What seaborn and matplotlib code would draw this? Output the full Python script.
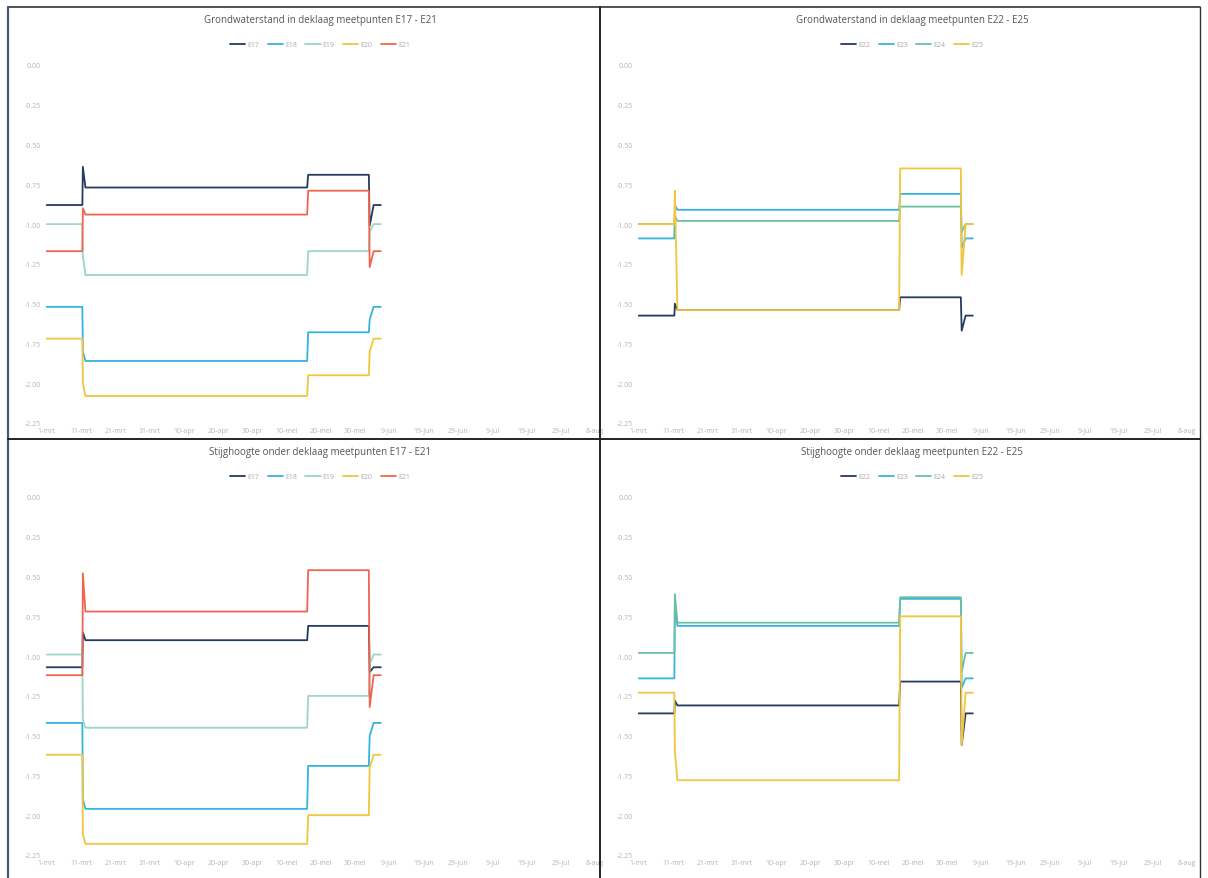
import pandas as pd
import seaborn as sns
import matplotlib.pyplot as plt
from matplotlib.lines import Line2D

# breakpoints in days (before, spike, plateau, step, spike, after)
days = [0, 10.4, 10.55, 11.3, 76, 76.3, 94, 94.25, 95.4, 97.5]

# Grondwaterstand in deklaag E17 - E21
gw_e17 = [-0.88, -0.88, -0.64, -0.77, -0.77, -0.69, -0.69, -1.01, -0.88, -0.88]
gw_e18 = [-1.52, -1.52, -1.80, -1.86, -1.86, -1.68, -1.68, -1.60, -1.52, -1.52]
gw_e19 = [-1.00, -1.00, -1.20, -1.32, -1.32, -1.17, -1.17, -1.05, -1.00, -1.00]
gw_e20 = [-1.72, -1.72, -2.00, -2.08, -2.08, -1.95, -1.95, -1.80, -1.72, -1.72]
gw_e21 = [-1.17, -1.17, -0.90, -0.94, -0.94, -0.79, -0.79, -1.27, -1.17, -1.17]

# Grondwaterstand in deklaag E22 - E25
gw_e22 = [-1.575, -1.575, -1.50, -1.54, -1.54, -1.46, -1.46, -1.67, -1.575, -1.575]
gw_e23 = [-1.09, -1.09, -0.88, -0.91, -0.91, -0.81, -0.81, -1.15, -1.09, -1.09]
gw_e24 = [-1.00, -1.00, -0.95, -0.98, -0.98, -0.89, -0.89, -1.05, -1.00, -1.00]
gw_e25 = [-1.00, -1.00, -0.79, -1.54, -1.54, -0.65, -0.65, -1.32, -1.00, -1.00]

# Stijghoogte onder deklaag E17 - E21
st_e17 = [-1.07, -1.07, -0.85, -0.90, -0.90, -0.81, -0.81, -1.10, -1.07, -1.07]
st_e18 = [-1.42, -1.42, -1.90, -1.96, -1.96, -1.69, -1.69, -1.50, -1.42, -1.42]
st_e19 = [-0.99, -0.99, -1.40, -1.45, -1.45, -1.25, -1.25, -1.05, -0.99, -0.99]
st_e20 = [-1.62, -1.62, -2.12, -2.18, -2.18, -2.00, -2.00, -1.70, -1.62, -1.62]
st_e21 = [-1.12, -1.12, -0.48, -0.72, -0.72, -0.46, -0.46, -1.32, -1.12, -1.12]

# Stijghoogte onder deklaag E22 - E25
st_e22 = [-1.36, -1.36, -1.28, -1.31, -1.31, -1.16, -1.16, -1.56, -1.36, -1.36]
st_e23 = [-1.14, -1.14, -0.70, -0.81, -0.81, -0.64, -0.64, -1.20, -1.14, -1.14]
st_e24 = [-0.98, -0.98, -0.61, -0.79, -0.79, -0.63, -0.63, -1.10, -0.98, -0.98]
st_e25 = [-1.23, -1.23, -1.60, -1.78, -1.78, -0.75, -0.75, -1.56, -1.23, -1.23]

x_ticks = [0, 10, 20, 30, 40, 50, 60, 70, 80, 90, 100, 110, 120, 130, 140, 150, 160]
x_labels = ["1-mrt", "11-mrt", "21-mrt", "31-mrt", "10-apr", "20-apr", "30-apr",
            "10-mei", "20-mei", "30-mei", "9-jun", "19-jun", "29-jun", "9-jul",
            "19-jul", "29-jul", "8-aug"]
y_ticks = [0.0, -0.25, -0.5, -0.75, -1.0, -1.25, -1.5, -1.75, -2.0, -2.25]

colors = {"E17": "#243a5e", "E18": "#35b4dc", "E19": "#9dd6c4", "E20": "#f2c53d",
          "E21": "#f0654f", "E22": "#243a5e", "E23": "#35b4dc", "E24": "#6cbfa0",
          "E25": "#f2c53d"}

panels = [
    ("Grondwaterstand in deklaag meetpunten E17 - E21",
     {"E17": gw_e17, "E18": gw_e18, "E19": gw_e19, "E20": gw_e20, "E21": gw_e21}),
    ("Grondwaterstand in deklaag meetpunten E22 - E25",
     {"E22": gw_e22, "E23": gw_e23, "E24": gw_e24, "E25": gw_e25}),
    ("Stijghoogte onder deklaag meetpunten E17 - E21",
     {"E17": st_e17, "E18": st_e18, "E19": st_e19, "E20": st_e20, "E21": st_e21}),
    ("Stijghoogte onder deklaag meetpunten E22 - E25",
     {"E22": st_e22, "E23": st_e23, "E24": st_e24, "E25": st_e25}),
]

sns.set_style("white")
plt.rcParams['font.family'] = ['Open Sans', 'DejaVu Sans']

W, H = 1208, 879
fig = plt.figure(figsize=(W / 100, H / 100), dpi=100)

# panel origins in pixels (left, top)
origins = [(8, 8), (600, 8), (8, 440), (600, 440)]

for (title, series), (px, py) in zip(panels, origins):
    rows = []
    for name, vals in series.items():
        for d, v in zip(days, vals):
            rows.append({"dag": d, "stand": v, "meetpunt": name})
    df = pd.DataFrame(rows)

    left = px + 37
    right = px + 587
    top = py + 58
    bottom = py + 416
    ax = fig.add_axes([left / W, 1 - bottom / H, (right - left) / W, (bottom - top) / H])
    sns.lineplot(data=df, x="dag", y="stand", hue="meetpunt", palette=colors,
                 sort=False, estimator=None, linewidth=1.3, ax=ax)
    ax.set_xlim(-0.5, 160)
    ax.set_ylim(-2.25, 0)
    ax.set_xticks(x_ticks)
    ax.set_xticklabels(x_labels, fontsize=5, color="#b5b5b5")
    ax.set_yticks(y_ticks)
    ax.set_yticklabels(["%.2f" % v if v != 0 else "0.00" for v in y_ticks],
                       fontsize=5, color="#b5b5b5")
    ax.tick_params(length=0, pad=3)
    ax.set_xlabel("")
    ax.set_ylabel("")
    for s in ax.spines.values():
        s.set_visible(False)
    ax.set_title(title, fontsize=7, color="#555555", pad=31)

    handles = [Line2D([0], [0], color=colors[n], lw=1.3) for n in series]
    leg = ax.legend(handles, list(series.keys()), loc="lower center",
                    bbox_to_anchor=(0.5, 1.03), ncol=len(series), frameon=False,
                    fontsize=5, handlelength=2.2, columnspacing=1.2, handletextpad=0.3)
    for t in leg.get_texts():
        t.set_color("#aaaaaa")

# panel borders
fig.add_artist(Line2D([8 / W, 1200 / W], [1 - 8 / H, 1 - 8 / H], color="#333333", lw=1.2))
fig.add_artist(Line2D([8 / W, 8 / W], [0, 1 - 8 / H], color="#4a5a70", lw=1.6))
fig.add_artist(Line2D([1200 / W, 1200 / W], [0, 1 - 8 / H], color="#333333", lw=1.0))
fig.add_artist(Line2D([600 / W, 600 / W], [0, 1 - 8 / H], color="#222222", lw=1.4))
fig.add_artist(Line2D([8 / W, 1200 / W], [1 - 440 / H, 1 - 440 / H], color="#222222", lw=1.4))

fig.savefig("out.png", dpi=100, facecolor="white")
